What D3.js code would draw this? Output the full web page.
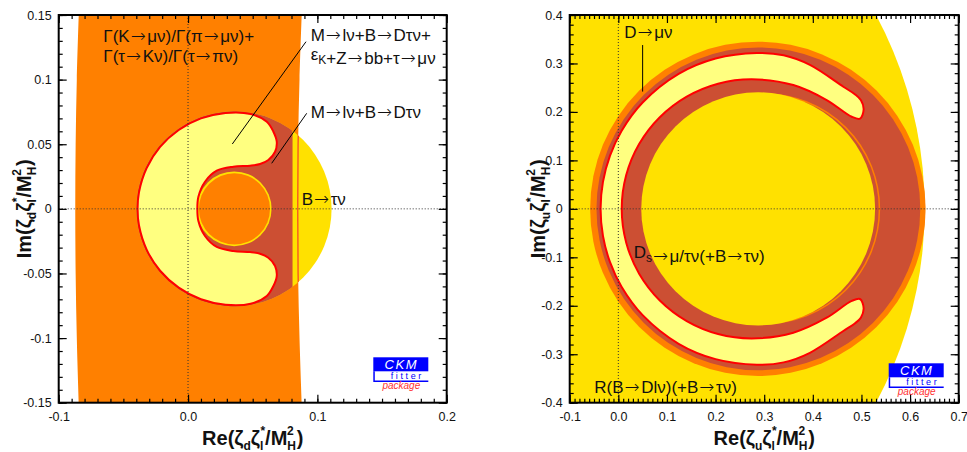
<!DOCTYPE html>
<html><head><meta charset="utf-8">
<script src="https://cdn.jsdelivr.net/npm/d3@7"></script>
<style>
body{margin:0;background:#fff;}
svg{display:block;}
text{font-family:"Liberation Sans",Arial,Helvetica,sans-serif;}
</style>
</head><body>
<svg id="c" width="967" height="452"></svg>
<script>
// ---------------- DATA ----------------
// Left panel: Re/Im(zeta_d zeta_l*/M_H^2)
const L_xTicks = [-0.1, 0.0, 0.1, 0.2];
const L_xLabels = ["-0.1", "0.0", "0.1", "0.2"];
const L_yTicks = [0.15, 0.1, 0.05, 0, -0.05, -0.1, -0.15];
const L_yLabels = ["0.15", "0.1", "0.05", "0", "-0.05", "-0.1", "-0.15"];
// Orange band Γ(K→μν)/Γ(π→μν)+Γ(τ→Kν)/Γ(τ→πν)
const L_bandY      = [-0.15, -0.1, -0.05, 0, 0.05, 0.1, 0.15];
const L_bandLeftX  = [-0.0845, -0.0860, -0.0869, -0.0872, -0.0869, -0.0860, -0.0845];
const L_bandRightX = [0.0879, 0.0862, 0.0851, 0.0848, 0.0851, 0.0862, 0.0879];
// B→τν allowed disk [cx, cy, r] and its hole
const L_btnDisk  = [0.0355, 0, 0.0755];
const L_ringDisk = [0.0357, 0, 0.0289];
const L_holeDisk = [0.0359, 0, 0.0275];
// M→lν+B→Dτν region right limit
const L_brownMaxX = 0.0808;
// Combined fit contour (pale C-shape)
const L_paleContour = [
  [0.0609, 0.0674], [0.0484, 0.0734], [0.0290, 0.0742], [0.0100, 0.0700], [-0.0072, 0.0610],
  [-0.0216, 0.0479], [-0.0320, 0.0315], [-0.0379, 0.0129], [-0.0390, 0],
  [-0.0379, -0.0129], [-0.0320, -0.0315], [-0.0216, -0.0479], [-0.0072, -0.0610], [0.0100, -0.0700],
  [0.0290, -0.0742], [0.0484, -0.0734], [0.0609, -0.0674],
  [0.0660, -0.0597], [0.0686, -0.0520], [0.0673, -0.0442], [0.0621, -0.0378], [0.0557, -0.0347],
  [0.0480, -0.0334], [0.0350, -0.0326], [0.0222, -0.0295], [0.0131, -0.0210], [0.0080, -0.0094],
  [0.0072, 0],
  [0.0080, 0.0094], [0.0131, 0.0210], [0.0222, 0.0295], [0.0350, 0.0326], [0.0480, 0.0334],
  [0.0557, 0.0347], [0.0621, 0.0378], [0.0673, 0.0442], [0.0686, 0.0520], [0.0660, 0.0597]
];

// Right panel: Re/Im(zeta_u zeta_l*/M_H^2)
const R_xTicks = [-0.1, 0.0, 0.1, 0.2, 0.3, 0.4, 0.5, 0.6, 0.7];
const R_xLabels = ["-0.1", "0.0", "0.1", "0.2", "0.3", "0.4", "0.5", "0.6", "0.7"];
const R_yTicks = [0.4, 0.3, 0.2, 0.1, 0, -0.1, -0.2, -0.3, -0.4];
const R_yLabels = ["0.4", "0.3", "0.2", "0.1", "0", "-0.1", "-0.2", "-0.3", "-0.4"];
const R_rbdDisk     = [-0.22, 0, 0.85];    // R(B→Dlν)
const R_dmunuDisk   = [0.287, 0, 0.345];   // D→μν
const R_dsDisk      = [0.288, 0, 0.333];   // Ds→μ/τν
const R_dsInnerLine = [0.300, 0, 0.237];
const R_innerDisk   = [0.2876, 0, 0.2405];
const R_paleContour = [
  [0.5045, 0.205], [0.4990, 0.224], [0.4870, 0.236], [0.4627, 0.252], [0.394, 0.297], [0.34, 0.3168],
  [0.285, 0.3215], [0.20, 0.3101], [0.124, 0.2784], [0.05, 0.2194], [0.0066, 0.1608], [-0.0171, 0.110],
  [-0.0316, 0.0558], [-0.0365, 0],
  [-0.0316, -0.0558], [-0.0171, -0.110], [0.0066, -0.1608], [0.05, -0.2194], [0.124, -0.2784],
  [0.20, -0.3101], [0.285, -0.3215], [0.34, -0.3168], [0.394, -0.297], [0.4627, -0.252],
  [0.4870, -0.236], [0.4990, -0.224], [0.5045, -0.205],
  [0.497, -0.186], [0.480, -0.190], [0.4285, -0.2246], [0.3599, -0.2555], [0.2743, -0.2673],
  [0.2051, -0.2582], [0.1407, -0.2315], [0.0853, -0.189], [0.0428, -0.1337], [0.0161, -0.0692],
  [0.007, 0],
  [0.0161, 0.0692], [0.0428, 0.1337], [0.0853, 0.189], [0.1407, 0.2315], [0.2051, 0.2582],
  [0.2743, 0.2673], [0.3599, 0.2555], [0.4285, 0.2246], [0.480, 0.190], [0.497, 0.186]
];

// ---------------- DRAWING ----------------
const COL = {orange:"#FF8000", yellow:"#FFE100", pale:"#FFFF80", brown:"#CC4F33", red:"#FF0000", ink:"#111"};
const svg = d3.select("#c");
const defs = svg.append("defs");

function ellipse(sel, c, x, y) {
  return sel.append("ellipse")
    .attr("cx", x(c[0])).attr("cy", y(c[1]))
    .attr("rx", x(c[0] + c[2]) - x(c[0]))
    .attr("ry", y(c[1]) - y(c[1] + c[2]));
}

function makePanel(id, xd, yd, x0, x1, y0, y1) {
  const x = d3.scaleLinear().domain(xd).range([x0, x1]);
  const y = d3.scaleLinear().domain(yd).range([y1, y0]);
  defs.append("clipPath").attr("id", id + "clip").append("rect")
    .attr("x", x0).attr("y", y0).attr("width", x1 - x0).attr("height", y1 - y0);
  const g = svg.append("g");
  const plot = g.append("g").attr("clip-path", `url(#${id}clip)`);
  return {x, y, g, plot, x0, x1, y0, y1};
}

function axes(P, xTicks, xLabels, yTicks, yLabels, xMinorN, yMinorN) {
  const {x, y, g, x0, x1, y0, y1} = P;
  const fmt = (ticks, labels) => d => labels[ticks.findIndex(t => Math.abs(t - d) < 1e-9)];
  const style = s => { s.select(".domain").remove(); s.selectAll("line").attr("stroke", "#000").attr("stroke-width", 1.2);
    s.selectAll("text").attr("font-size", 12.5).attr("fill", COL.ink).attr("font-family", '"Liberation Sans",Arial,sans-serif'); };
  // minor
  g.append("g").attr("transform", `translate(0,${y1})`).call(d3.axisBottom(x).ticks(xMinorN).tickSize(-4).tickFormat("")).call(style);
  g.append("g").attr("transform", `translate(0,${y0})`).call(d3.axisTop(x).ticks(xMinorN).tickSize(-4).tickFormat("")).call(style);
  g.append("g").attr("transform", `translate(${x0},0)`).call(d3.axisLeft(y).ticks(yMinorN).tickSize(-4).tickFormat("")).call(style);
  g.append("g").attr("transform", `translate(${x1},0)`).call(d3.axisRight(y).ticks(yMinorN).tickSize(-4).tickFormat("")).call(style);
  // major
  g.append("g").attr("transform", `translate(0,${y1})`)
    .call(d3.axisBottom(x).tickValues(xTicks).tickFormat(fmt(xTicks, xLabels)).tickSizeInner(-8).tickSizeOuter(0).tickPadding(9)).call(style);
  g.append("g").attr("transform", `translate(0,${y0})`)
    .call(d3.axisTop(x).tickValues(xTicks).tickFormat("").tickSizeInner(-8).tickSizeOuter(0)).call(style);
  g.append("g").attr("transform", `translate(${x0},0)`)
    .call(d3.axisLeft(y).tickValues(yTicks).tickFormat(fmt(yTicks, yLabels)).tickSizeInner(-8).tickSizeOuter(0).tickPadding(7)).call(style);
  g.append("g").attr("transform", `translate(${x1},0)`)
    .call(d3.axisRight(y).tickValues(yTicks).tickFormat("").tickSizeInner(-8).tickSizeOuter(0)).call(style);
  g.append("rect").attr("x", x0).attr("y", y0).attr("width", x1 - x0).attr("height", y1 - y0)
    .attr("fill", "none").attr("stroke", "#000").attr("stroke-width", 2);
}

function dotted(P) {
  const {x, y, plot} = P;
  plot.append("line").attr("x1", x(0)).attr("x2", x(0)).attr("y1", P.y0).attr("y2", P.y1)
    .attr("stroke", "#333").attr("stroke-width", 1).attr("stroke-dasharray", "1,2");
  plot.append("line").attr("x1", P.x0).attr("x2", P.x1).attr("y1", y(0)).attr("y2", y(0))
    .attr("stroke", "#333").attr("stroke-width", 1).attr("stroke-dasharray", "1,2");
}

function axisTitles(P, q, ytx) {
  const cx = (P.x0 + P.x1) / 2, cy = (P.y0 + P.y1) / 2;
  const build = (t, pre) => {
    t.attr("font-size", 20).attr("font-weight", "bold").attr("fill", COL.ink).attr("text-anchor", "middle");
    t.append("tspan").text(pre + "(ζ");
    t.append("tspan").attr("font-size", 12).attr("dy", 5).text(q);
    t.append("tspan").attr("dy", -5).text("ζ");
    t.append("tspan").attr("font-size", 12).attr("dy", 5).text("l");
    t.append("tspan").attr("font-size", 12).attr("dx", -3).attr("dy", -15).text("*");
    t.append("tspan").attr("dy", 10).text("/M");
    t.append("tspan").attr("font-size", 12).attr("dy", 5).text("H");
    t.append("tspan").attr("font-size", 12).attr("dx", -9).attr("dy", -15).text("2");
    t.append("tspan").attr("dx", 3).attr("dy", 10).text(")");
  };
  build(P.g.append("text").attr("x", cx).attr("y", 445), "Re");
  build(P.g.append("text").attr("transform", `translate(${ytx},${cy}) rotate(-90)`), "Im");
}

function logo(g, x0, y0) {
  g.append("rect").attr("x", x0).attr("y", y0).attr("width", 55).attr("height", 14).attr("fill", "#0000FF");
  g.append("text").attr("x", x0 + 28).attr("y", y0 + 12).attr("text-anchor", "middle")
    .attr("font-size", 13).attr("font-style", "italic").attr("letter-spacing", 1.5).attr("fill", "#fff").text("CKM");
  g.append("path").attr("d", `M${x0 + 0.75},${y0 + 14}V${y0 + 24}H${x0 + 55}`)
    .attr("fill", "none").attr("stroke", "#0000FF").attr("stroke-width", 1.5);
  g.append("text").attr("x", x0 + 34).attr("y", y0 + 21.5).attr("text-anchor", "middle")
    .attr("font-size", 9).attr("letter-spacing", 2.6).attr("fill", "#0000FF").text("fitter");
  g.append("text").attr("x", x0 + 28).attr("y", y0 + 32).attr("text-anchor", "middle")
    .attr("font-size", 10).attr("font-style", "italic").attr("fill", "#FF3333").text("package");
}

// label with long thin arrows and optional subscripts
function label(g, px, py, parts) {
  const t = g.append("text").attr("x", px).attr("y", py).attr("font-size", 17).attr("fill", COL.ink);
  parts.forEach(p => {
    if (typeof p === "string") {
      let afterArrow = false;
      p.split(/(→)/).forEach(s => {
        if (!s) return;
        if (s === "→") {
          t.append("tspan").attr("font-family", '"DejaVu Sans",sans-serif').attr("font-weight", 200)
            .attr("font-size", 18).attr("dx", 1).text("→");
          afterArrow = true;
        } else {
          const ts = t.append("tspan").text(s);
          if (afterArrow) ts.attr("dx", 1.5);
          afterArrow = false;
        }
      });
    } else t.append("tspan").attr("font-size", 12).attr("dy", p.dy).text(p.t);
  });
  return t;
}

const contourLine = (x, y) => d3.line().x(d => x(d[0])).y(d => y(d[1])).curve(d3.curveCatmullRomClosed.alpha(0.5));

// ===== LEFT PANEL =====
const LP = makePanel("L", [-0.1, 0.2], [-0.15, 0.15], 58.7, 446.7, 15, 402.7);
{
  const {x, y, plot} = LP;
  const ln = d3.line().x(d => x(d[0])).y(d => y(d[1])).curve(d3.curveCatmullRom);
  const leftEdge = L_bandY.map((v, i) => [L_bandLeftX[i], v]);
  const rightEdge = L_bandY.map((v, i) => [L_bandRightX[i], v]).reverse();
  plot.append("path").attr("d", ln(leftEdge) + "L" + ln(rightEdge).slice(1) + "Z").attr("fill", COL.orange);
  ellipse(plot, L_btnDisk, x, y).attr("fill", COL.yellow);
  defs.append("clipPath").attr("id", "Lbrown").append("rect")
    .attr("x", 0).attr("y", 0).attr("width", x(L_brownMaxX)).attr("height", 452);
  ellipse(plot.append("g").attr("clip-path", "url(#Lbrown)"), L_btnDisk, x, y).attr("fill", COL.brown);
  ellipse(plot, L_ringDisk, x, y).attr("fill", COL.yellow);
  ellipse(plot, L_holeDisk, x, y).attr("fill", COL.orange);
  // band edge visible inside disk
  const dc = defs.append("clipPath").attr("id", "Ldisk");
  ellipse(dc, L_btnDisk, x, y);
  plot.append("g").attr("clip-path", "url(#Ldisk)").append("path")
    .attr("d", ln(L_bandY.map((v, i) => [L_bandRightX[i], v])))
    .attr("fill", "none").attr("stroke", "#F86020").attr("stroke-width", 1.5);
  plot.append("path").attr("d", contourLine(x, y)(L_paleContour))
    .attr("fill", COL.pale).attr("stroke", COL.red).attr("stroke-width", 2);
  dotted(LP);
  const g = LP.g;
  label(g, 103.3, 41.7, ["Γ(K→μν)/Γ(π→μν)+"]);
  label(g, 103.3, 61.5, ["Γ(τ→Kν)/Γ(τ→πν)"]);
  label(g, 310.7, 40.7, ["M→lν+B→Dτν+"]);
  label(g, 310.7, 60, ["ε", {t: "K", dy: 4}, {t: "", dy: -4}, "+Z→bb+τ→μν"]);
  label(g, 310.7, 118.3, ["M→lν+B→Dτν"]);
  label(g, 301.7, 205, ["B→τν"]);
  g.append("line").attr("x1", 306).attr("y1", 41.7).attr("x2", 232.3).attr("y2", 144).attr("stroke", "#000").attr("stroke-width", 1);
  g.append("line").attr("x1", 306.7).attr("y1", 113.3).attr("x2", 271.7).attr("y2", 163.3).attr("stroke", "#000").attr("stroke-width", 1);
  logo(g, 373.3, 357.3);
  axes(LP, L_xTicks, L_xLabels, L_yTicks, L_yLabels, 30, 30);
  axisTitles(LP, "d", 31);
}

// ===== RIGHT PANEL =====
const RP = makePanel("R", [-0.1, 0.7], [-0.4, 0.4], 569.7, 958.7, 15, 402.7);
{
  const {x, y, plot} = RP;
  ellipse(plot, R_rbdDisk, x, y).attr("fill", COL.yellow);
  ellipse(plot, R_dmunuDisk, x, y).attr("fill", COL.orange);
  ellipse(plot, R_dsDisk, x, y).attr("fill", COL.brown);
  ellipse(plot, R_dsInnerLine, x, y).attr("fill", "none").attr("stroke", COL.orange).attr("stroke-width", 1.5);
  ellipse(plot, R_innerDisk, x, y).attr("fill", COL.yellow);
  plot.append("path").attr("d", contourLine(x, y)(R_paleContour))
    .attr("fill", COL.pale).attr("stroke", COL.red).attr("stroke-width", 2);
  dotted(RP);
  const g = RP.g;
  label(g, 624.3, 38.3, ["D→μν"]);
  g.append("line").attr("x1", x(0.05)).attr("x2", x(0.05)).attr("y1", y(0.338)).attr("y2", y(0.242)).attr("stroke", "#000").attr("stroke-width", 1);
  label(g, 633.7, 258.3, ["D", {t: "s", dy: 4}, {t: "", dy: -4}, "→μ/τν(+B→τν)"]);
  label(g, 594.3, 393.3, ["R(B→Dlν)(+B→τν)"]);
  logo(g, 888.7, 363.3);
  axes(RP, R_xTicks, R_xLabels, R_yTicks, R_yLabels, 80, 40);
  axisTitles(RP, "u", 545);
}
</script>
</body></html>
